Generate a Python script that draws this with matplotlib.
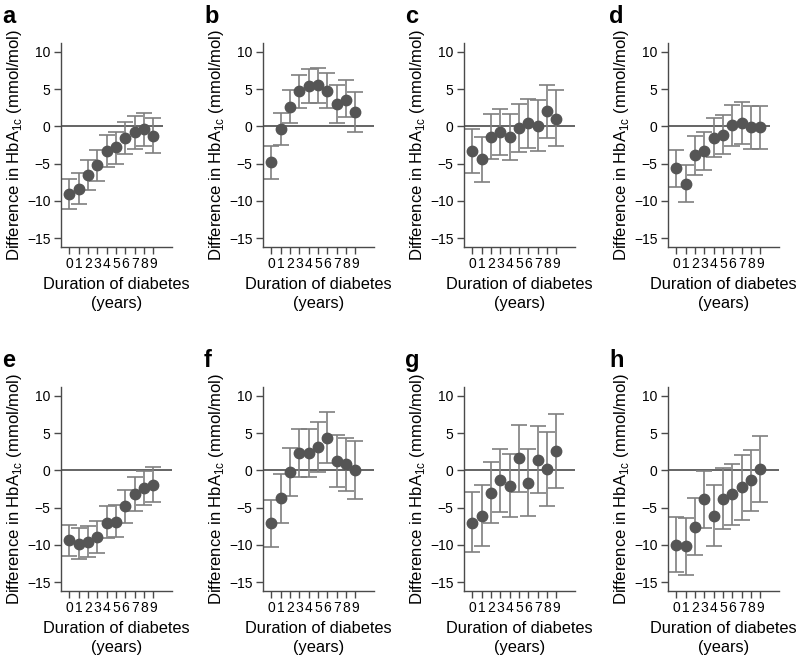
import matplotlib
matplotlib.use('Agg')
import matplotlib.pyplot as plt
import numpy as np

plt.rcParams['font.family'] = ['Liberation Sans', 'DejaVu Sans']

years = list(range(10))
letters = ['a', 'b', 'c', 'd', 'e', 'f', 'g', 'h']

est_a = [-9.1, -8.4, -6.5, -5.2, -3.3, -2.8, -1.6, -0.8, -0.4, -1.3]
lo_a = [-11.1, -10.4, -8.6, -7.3, -5.4, -5.0, -3.7, -3.0, -2.7, -3.6]
hi_a = [-7.1, -6.3, -4.5, -3.2, -1.2, -0.8, 0.6, 1.4, 1.8, 1.1]

est_b = [-4.8, -0.3, 2.6, 4.7, 5.4, 5.5, 4.8, 3.0, 3.6, 1.9]
lo_b = [-7.0, -2.5, 0.4, 2.5, 3.2, 3.2, 2.5, 0.5, 1.2, -0.8]
hi_b = [-2.7, 1.8, 4.9, 6.9, 7.7, 7.9, 7.2, 5.5, 6.2, 4.6]

est_c = [-3.3, -4.4, -1.4, -0.8, -1.4, -0.2, 0.4, 0.1, 2.0, 1.0]
lo_c = [-6.3, -7.5, -4.4, -3.9, -4.5, -3.4, -2.9, -3.3, -1.5, -2.7]
hi_c = [-0.4, -1.4, 1.7, 2.3, 1.6, 3.0, 3.7, 3.5, 5.5, 4.9]

est_d = [-5.6, -7.7, -3.9, -3.3, -1.5, -1.1, 0.2, 0.5, -0.1, -0.1]
lo_d = [-8.1, -10.2, -6.5, -5.9, -4.1, -3.7, -2.6, -2.3, -3.1, -3.1]
hi_d = [-3.2, -5.2, -1.3, -0.8, 1.1, 1.5, 2.9, 3.3, 2.8, 2.7]

est_e = [-9.4, -9.9, -9.6, -9.0, -7.0, -6.9, -4.8, -3.2, -2.4, -1.9]
lo_e = [-11.5, -11.9, -11.7, -11.1, -9.1, -9.0, -7.0, -5.5, -4.7, -4.3]
hi_e = [-7.3, -7.8, -7.5, -6.8, -4.8, -4.6, -2.6, -0.9, -0.1, 0.4]

est_f = [-7.1, -3.7, -0.2, 2.3, 2.4, 3.1, 4.4, 1.3, 0.8, 0.1]
lo_f = [-10.3, -7.0, -3.4, -0.9, -0.9, -0.2, 1.0, -2.2, -2.8, -3.8]
hi_f = [-4.0, -0.5, 3.0, 5.5, 5.6, 6.5, 7.9, 4.8, 4.4, 4.0]

est_g = [-7.0, -6.1, -3.0, -1.3, -2.1, 1.7, -1.7, 1.4, 0.2, 2.6]
lo_g = [-10.9, -10.1, -7.1, -5.6, -6.3, -2.9, -6.1, -3.1, -4.8, -2.3]
hi_g = [-2.9, -2.0, 1.1, 2.9, 2.2, 6.1, 2.9, 5.9, 5.2, 7.6]

est_h = [-10.0, -10.2, -7.6, -3.9, -6.1, -3.9, -3.2, -2.2, -1.3, 0.2]
lo_h = [-13.7, -14.0, -11.4, -7.8, -10.1, -7.9, -7.4, -6.6, -5.5, -4.3]
hi_h = [-6.3, -6.4, -3.7, -0.1, -2.0, 0.3, 0.9, 2.1, 2.8, 4.6]

panels = [
    (est_a, lo_a, hi_a), (est_b, lo_b, hi_b), (est_c, lo_c, hi_c), (est_d, lo_d, hi_d),
    (est_e, lo_e, hi_e), (est_f, lo_f, hi_f), (est_g, lo_g, hi_g), (est_h, lo_h, hi_h),
]

W, H = 798, 656
fig = plt.figure(figsize=(W / 100, H / 100), dpi=100)

lefts = [61, 263, 464, 668]
tops = [43, 387]
ax_w, ax_h = 111, 204
zero_end = [10.0, 11.0, 11.0, 10.0, 11.0, 11.0, 11.0, 11.0]

for i, (est, lo, hi) in enumerate(panels):
    row, col = divmod(i, 4)
    x0, y0 = lefts[col], tops[row]
    ax = fig.add_axes([x0 / W, 1 - (y0 + ax_h) / H, ax_w / W, ax_h / H])
    est = np.array(est)
    yerr = [est - np.array(lo), np.array(hi) - est]
    ax.hlines(0, -0.9, zero_end[i], color='#3a3a3a', lw=1.1, zorder=1)
    ax.errorbar(years, est, yerr=yerr, fmt='none', ecolor='#7f7f7f',
                elinewidth=1.2, capsize=5.5, capthick=1.2, zorder=2)
    ax.plot(years, est, 'o', color='#555555', ms=7.5, zorder=3)
    ax.set_xlim(-0.9, 11)
    ax.set_ylim(-16.2, 11.2)
    ax.set_xticks(years)
    ax.set_yticks([10, 5, 0, -5, -10, -15])
    for s in ['top', 'right']:
        ax.spines[s].set_visible(False)
    for s in ['left', 'bottom']:
        ax.spines[s].set_color('#4a4a4a')
        ax.spines[s].set_linewidth(1.0)
    ax.tick_params(axis='both', length=5, width=1.0, color='#4a4a4a',
                   labelsize=10, pad=2.5)
    ax.set_xlabel('Duration of diabetes\n(years)', fontsize=11.8, labelpad=4,
                  linespacing=1.3)
    ax.set_ylabel('Difference in HbA$_{\\mathregular{1c}}$ (mmol/mol)', fontsize=12,
                  labelpad=2)
    fig.text((x0 - 59) / W, 1 - (y0 - 20) / H, letters[i], fontsize=17,
             fontweight='bold', ha='left', va='baseline')

fig.savefig('out.png', dpi=100)
